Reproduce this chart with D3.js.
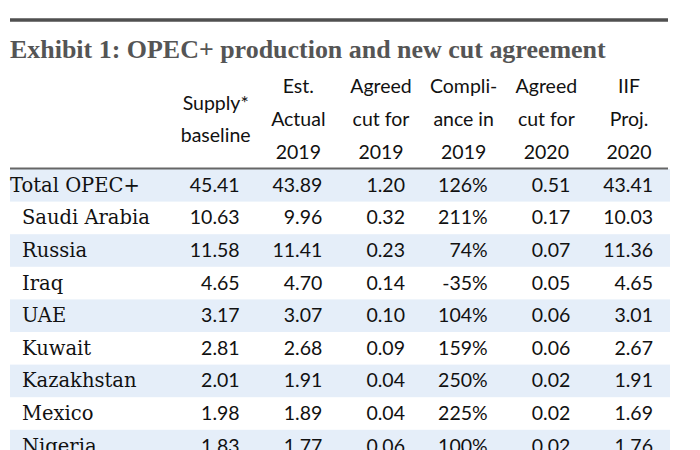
<!DOCTYPE html>
<html><head><meta charset="utf-8">
<script src="https://cdn.jsdelivr.net/npm/d3@7"></script>
<style>html,body{margin:0;padding:0;background:#fff;}</style>
</head><body>
<svg id="c" width="700" height="450"></svg>
<script>
const title = "Exhibit 1: OPEC+ production and new cut agreement";
const headers = [
  ["Supply*", "baseline"],
  ["Est.", "Actual", "2019"],
  ["Agreed", "cut for", "2019"],
  ["Compli-", "ance in", "2019"],
  ["Agreed", "cut for", "2020"],
  ["IIF", "Proj.", "2020"]
];
const countries = ["Total OPEC+", "Saudi Arabia", "Russia", "Iraq", "UAE", "Kuwait", "Kazakhstan", "Mexico", "Nigeria"];
const supplyBaseline = ["45.41","10.63","11.58","4.65","3.17","2.81","2.01","1.98","1.83"];
const estActual2019  = ["43.89","9.96","11.41","4.70","3.07","2.68","1.91","1.89","1.77"];
const agreedCut2019  = ["1.20","0.32","0.23","0.14","0.10","0.09","0.04","0.04","0.06"];
const compliance2019 = ["126%","211%","74%","-35%","104%","159%","250%","225%","100%"];
const agreedCut2020  = ["0.51","0.17","0.07","0.05","0.06","0.06","0.02","0.02","0.02"];
const iifProj2020    = ["43.41","10.03","11.36","4.65","3.01","2.67","1.91","1.69","1.76"];

const columns = [supplyBaseline, estActual2019, agreedCut2019, compliance2019, agreedCut2020, iifProj2020];
const svg = d3.select("#c");
const numFont = "Lato, 'Open Sans', sans-serif";
const serif = "'DejaVu Serif', Georgia, serif";

const x = d3.scaleBand().domain(d3.range(columns.length)).range([170, 666]);
const y = d3.scaleBand().domain(countries).range([169, 169 + 32.6 * countries.length]);

// top rule
svg.append("line").attr("x1", 10).attr("x2", 668).attr("y1", 20).attr("y2", 20)
  .attr("stroke", "#505050").attr("stroke-width", 3.5);

// title
const t = svg.append("text").attr("x", 10).attr("y", 58).text(title)
  .attr("font-family", "'Liberation Serif', 'Times New Roman', serif").attr("font-weight", "bold").attr("fill", "#555")
  .attr("font-size", 24);
const tw = t.node().getComputedTextLength();
t.attr("font-size", 24 * 596 / tw);

// bands
svg.selectAll("rect.band").data(countries.filter((d, i) => i % 2 === 0)).join("rect")
  .attr("x", 10).attr("width", 660).attr("y", d => y(d)).attr("height", y.bandwidth())
  .attr("fill", "#e5eef9");

// header rule
svg.append("line").attr("x1", 10).attr("x2", 668).attr("y1", 168.5).attr("y2", 168.5)
  .attr("stroke", "#666").attr("stroke-width", 2);

// headers
headers.forEach((lines, ci) => {
  const cx = x(ci) + x.bandwidth() - 13 - 24;
  const ys = lines.length === 3 ? [93, 126, 159] : [110, 142];
  lines.forEach((ln, li) => {
    svg.append("text").attr("x", cx).attr("y", ys[li]).attr("text-anchor", "middle")
      .attr("font-family", numFont).attr("font-size", 19.5).attr("fill", "#111").text(ln);
  });
});

// row labels
svg.selectAll("text.lab").data(countries).join("text")
  .attr("x", (d, i) => i === 0 ? 10 : 22)
  .attr("y", d => y(d) + y.bandwidth() / 2 + 6.5)
  .attr("font-family", serif).attr("font-size", 19.5).attr("fill", "#111")
  .text(d => d);

// values
columns.forEach((col, ci) => {
  svg.selectAll("text.v" + ci).data(col).join("text")
    .attr("x", x(ci) + x.bandwidth() - 13)
    .attr("y", (d, i) => y(countries[i]) + y.bandwidth() / 2 + 6.5)
    .attr("text-anchor", "end")
    .attr("font-family", numFont).attr("font-size", 19.5).attr("fill", "#111")
    .text(d => d);
});
</script>
</body></html>
